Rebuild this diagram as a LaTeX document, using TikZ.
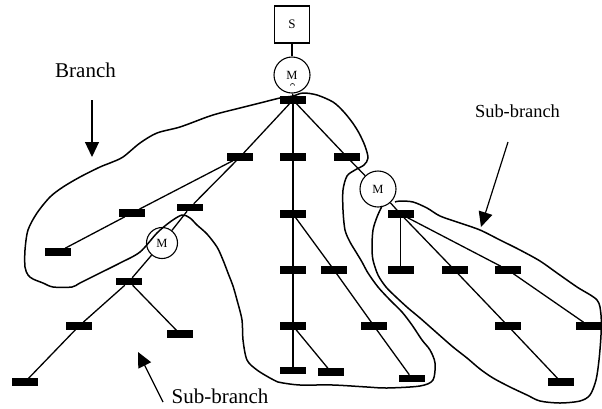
\documentclass[tikz,border=0pt]{standalone}
\usepackage{fontspec}
\setmainfont{Liberation Serif}
\usetikzlibrary{arrows.meta}
\begin{document}
\begin{tikzpicture}[x=1pt,y=-1pt,
  bar/.style={rectangle, fill=black, minimum width=26pt, minimum height=7.5pt, inner sep=0pt, outer sep=0pt},
  merge/.style={circle, draw, line width=1.1pt, fill=white, inner sep=0pt, minimum size=36pt, font=\fontsize{12.5}{14}\selectfont},
  start/.style={rectangle, draw, line width=1.1pt, minimum width=35pt, minimum height=37pt, inner sep=0pt, font=\fontsize{13}{15}\selectfont},
  link/.style={line width=1.3pt},
  outline/.style={line width=1.5pt, line join=round},
  caption/.style={anchor=base, inner sep=0pt},
  pointer/.style={line width=1.2pt, -{Triangle[length=15pt,width=14pt]}}]
\useasboundingbox (0,0) rectangle (602,408);

% root and first merge
\node[start] (S) at (292,24.5) {S};
\node[merge] (M0) at (292,75) {M};
\draw[line width=0.6pt] (290.5,85.5) arc[start angle=180,end angle=360,radius=2];
\node[bar] (t) at (293,100) {};

% central column
\node[bar] (C1) at (293,157) {};
\node[bar] (C2) at (293,214) {};
\node[bar] (C3) at (293,270) {};
\node[bar] (C4) at (293,326) {};
\node[bar] (C5) at (293,370.5) {};
\node[bar] (C5b) at (331,372) {};
\node[bar] (D1) at (334,270) {};
\node[bar] (D2) at (374,326) {};
\node[bar] (D3) at (412,378.5) {};

% left branch
\node[bar] (L1) at (240,157) {};
\node[bar] (L2a) at (132,213) {};
\node[bar] (L3) at (58,252) {};
\node[bar] (L2b) at (190,207.5) {};
\node[merge, minimum size=31pt] (ML) at (162,243) {M};
\node[bar] (LL1) at (129,281.5) {};
\node[bar] (LL2) at (79,326) {};
\node[bar] (LL3) at (25,382) {};
\node[bar] (LR2) at (180,334) {};

% right branch
\node[bar] (R1) at (347,157) {};
\node[merge] (MR) at (378,189) {M};
\node[bar] (RR0) at (400.5,214) {};
\node[bar] (RR1) at (400.5,270) {};
\node[bar] (RA1) at (454.5,270) {};
\node[bar] (RA2) at (508,326) {};
\node[bar] (RA3) at (561,382) {};
\node[bar] (RB1) at (508,270) {};
\node[bar] (RB2) at (589,326) {};

% connections
\draw[link] (S) -- (M0);
\draw[link] (M0) -- (t);
\draw[link] (t) -- (C1) -- (C2) -- (C3) -- (C4) -- (C5);
\draw[link] (C2) -- (D1) -- (D2) -- (D3);
\draw[link] (C4) -- (C5b);
\draw[link] (t) -- (L1);
\draw[link] (L1) -- (L2a) -- (L3);
\draw[link] (L1) -- (L2b) -- (ML) -- (LL1);
\draw[link] (LL1) -- (LL2) -- (LL3);
\draw[link] (LL1) -- (LR2);
\draw[link] (t) -- (R1) -- (MR) -- (RR0);
\draw[link] (RR0) -- (RR1);
\draw[link] (RR0) -- (RA1) -- (RA2) -- (RA3);
\draw[link] (RR0) -- (RB1) -- (RB2);

% outline of the branch
\draw[outline] plot[smooth cycle, tension=0.5] coordinates {
  (293,96) (280,98) (260,103) (240,108) (220,113) (207,117) (180,127)
  (157,133) (140,143) (123,157) (110,163) (100,167) (80,177) (63,187)
  (50,197) (37,213) (28,230) (25,250) (25,267) (28,275) (33,279)
  (43,283) (53,287) (72,287) (80,283) (100,273) (120,263) (140,252)
  (157,233) (170,222) (182,215) (190,218) (197,225) (207,234) (217,247)
  (223,260) (228,273) (233,286) (237,300) (242,320) (243,340) (247,360)
  (257,370) (270,378) (278,382) (283,383) (300,385) (333,385) (367,387)
  (387,388) (420,386) (433,380) (435,363) (430,350) (422,340) (412,325)
  (402,312) (390,300) (378,287) (368,273) (362,262) (356,252) (350,242)
  (345,230) (343,210) (343,190) (347,176) (355,170) (364,165) (368,158)
  (365,146) (359,133) (352,122) (343,111) (333,102) (317,95) (303,93)};

% outline of the right sub-branch
\draw[outline] plot[smooth, tension=0.5] coordinates {
  (382,206) (377,217) (373,230) (372,247) (373,260) (378,275) (386,287)
  (396,297) (408,308) (420,318) (437,333) (453,347) (467,358) (480,369)
  (493,378) (510,387) (527,395) (540,401) (560,403) (580,401) (590,395)
  (596,380) (599,360) (601,335) (601,315) (597,300) (577,287) (557,273)
  (540,261) (520,250) (500,240) (480,230) (460,223) (440,216) (427,208)
  (413,202) (400,201) (395,202)};

% captions and pointers
\node[caption, font=\fontsize{21}{24}\selectfont] (lb) at (85.5,77) {Branch};
\coordinate (lbt) at (92,100);
\coordinate (lbh) at (92,157);
\draw[pointer] (lbt) -- (lbh);

\node[caption, font=\fontsize{18.4}{22}\selectfont] (ls1) at (517.5,117) {Sub-branch};
\coordinate (ls1t) at (508,142);
\coordinate (ls1h) at (481,227);
\draw[pointer] (ls1t) -- (ls1h);

\node[caption, font=\fontsize{21}{24}\selectfont] (ls2) at (220,403) {Sub-branch};
\coordinate (ls2t) at (163,402);
\coordinate (ls2h) at (138,352);
\draw[pointer] (ls2t) -- (ls2h);
\end{tikzpicture}
\end{document}
